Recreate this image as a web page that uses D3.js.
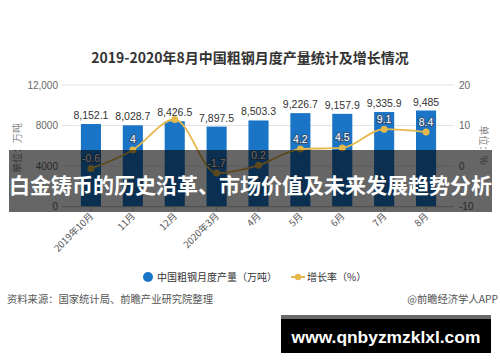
<!DOCTYPE html>
<html><head><meta charset="utf-8">
<script src="https://cdn.jsdelivr.net/npm/d3@7"></script>
<style>body{margin:0;background:#fff}svg{display:block}</style>
</head><body>
<svg id="c" width="500" height="362"></svg>
<script>
const categories = ["2019年10月","11月","12月","2020年3月","4月","5月","6月","7月","8月"];
const production = [8152.1, 8028.7, 8426.5, 7897.5, 8503.3, 9226.7, 9157.9, 9335.9, 9485];
const growth = [-0.6, 4, 11.5, -1.7, 0.2, 4.2, 4.5, 9.1, 8.4];
const growthLabels = ["-0.6","4","","-1.7","0.2","4.2","4.5","9.1","8.4"];
const leftTicks = [0, 4000, 8000, 12000];
const leftTickLabels = ["0","4000","8000","12,000"];
const rightTicks = [-10, 0, 10, 20];

const svg = d3.select("#c");
const fontLat = "Arial, 'Liberation Sans', sans-serif";
const fontCJK = "'Noto Sans CJK SC', 'Noto Sans', sans-serif";
const blue = "#1b75c7", gold = "#e5b84c";

const x = d3.scaleBand().domain(categories).range([70, 447]).paddingInner(0.52).paddingOuter(0.26);
const yL = d3.scaleLinear().domain([0, 12000]).range([206.7, 85]);
const yR = d3.scaleLinear().domain([-10, 20]).range([206.7, 85]);

// title
svg.append("text").attr("x", 250).attr("y", 63).attr("text-anchor", "middle")
  .attr("font-family", fontCJK).attr("font-weight", "bold").attr("font-size", 14).attr("fill", "#333")
  .text("2019-2020年8月中国粗钢月度产量统计及增长情况");

// gridlines
svg.append("g").selectAll("line").data(leftTicks.slice(1)).join("line")
  .attr("x1", 62).attr("x2", 454).attr("y1", d => yL(d)).attr("y2", d => yL(d))
  .attr("stroke", "#e3e3e3").attr("stroke-width", 1);

// left axis labels
svg.append("g").selectAll("text").data(leftTicks).join("text")
  .attr("x", 58).attr("y", d => yL(d) + 3.5).attr("text-anchor", "end")
  .attr("font-family", fontLat).attr("font-size", 10).attr("fill", "#666")
  .text((d, i) => leftTickLabels[i]);
// right axis labels
svg.append("g").selectAll("text").data(rightTicks).join("text")
  .attr("x", 459).attr("y", d => yR(d) + 3.5).attr("text-anchor", "start")
  .attr("font-family", fontLat).attr("font-size", 10).attr("fill", "#666")
  .text(d => d);

// axis titles
svg.append("text").attr("transform", "translate(21,148) rotate(-90)").attr("text-anchor", "middle")
  .attr("font-family", fontCJK).attr("font-size", 10).attr("fill", "#888").text("单位：万吨");
svg.append("text").attr("transform", "translate(480,145) rotate(90)").attr("text-anchor", "middle")
  .attr("font-family", fontCJK).attr("font-size", 10).attr("fill", "#888").text("单位：%");

// bars
svg.append("g").selectAll("rect").data(production).join("rect")
  .attr("x", (d, i) => x(categories[i])).attr("width", x.bandwidth())
  .attr("y", d => yL(d)).attr("height", d => yL(0) - yL(d)).attr("fill", blue);

// bar labels
svg.append("g").selectAll("text").data(production).join("text")
  .attr("x", (d, i) => x(categories[i]) + x.bandwidth() / 2).attr("y", d => yL(d) - 5)
  .attr("text-anchor", "middle").attr("font-family", fontLat).attr("font-size", 10.5)
  .attr("fill", "#333").text(d => d3.format(",")(d));

// x axis
const xc = c => x(c) + x.bandwidth() / 2;
svg.append("line").attr("x1", 62).attr("x2", 454).attr("y1", yL(0)).attr("y2", yL(0))
  .attr("stroke", "#bbb");
svg.append("g").selectAll("line").data(categories).join("line")
  .attr("x1", d => xc(d)).attr("x2", d => xc(d)).attr("y1", yL(0)).attr("y2", yL(0) + 4)
  .attr("stroke", "#bbb");
svg.append("g").selectAll("text").data(categories).join("text")
  .attr("transform", d => `translate(${xc(d) + 3},${yL(0) + 10}) rotate(-45)`)
  .attr("text-anchor", "end").attr("font-family", fontCJK).attr("font-size", 9.5).attr("fill", "#555")
  .text(d => d);

// line
const line = d3.line().x((d, i) => xc(categories[i])).y(d => yR(d)).curve(d3.curveMonotoneX);
svg.append("path").datum(growth).attr("d", line).attr("fill", "none").attr("stroke", gold).attr("stroke-width", 1.8);
svg.append("g").selectAll("circle").data(growth).join("circle")
  .attr("cx", (d, i) => xc(categories[i])).attr("cy", d => yR(d)).attr("r", 3.5).attr("fill", gold);
svg.append("g").selectAll("text").data(growth).join("text")
  .attr("x", (d, i) => xc(categories[i])).attr("y", d => yR(d) - 6.5)
  .attr("text-anchor", "middle").attr("font-family", fontLat).attr("font-size", 10.5)
  .attr("fill", "#fff").attr("stroke", "#2f557c").attr("stroke-width", 2.2).attr("paint-order", "stroke")
  .text((d, i) => growthLabels[i]);

// legend
svg.append("circle").attr("cx", 148).attr("cy", 277).attr("r", 5).attr("fill", blue);
svg.append("text").attr("x", 157).attr("y", 281).attr("font-family", fontCJK).attr("font-size", 10)
  .attr("fill", "#333").text("中国粗钢月度产量（万吨）");
svg.append("line").attr("x1", 291).attr("x2", 305).attr("y1", 277).attr("y2", 277).attr("stroke", gold).attr("stroke-width", 2);
svg.append("circle").attr("cx", 298).attr("cy", 277).attr("r", 3.2).attr("fill", gold);
svg.append("text").attr("x", 307).attr("y", 281).attr("font-family", fontCJK).attr("font-size", 10)
  .attr("fill", "#333").text("增长率（%）");

// source
svg.append("text").attr("x", 7).attr("y", 303).attr("font-family", fontCJK).attr("font-size", 10.3)
  .attr("fill", "#555").text("资料来源：国家统计局、前瞻产业研究院整理");
svg.append("text").attr("x", 498).attr("y", 303).attr("text-anchor", "end").attr("font-family", fontCJK).attr("font-size", 10.3)
  .attr("fill", "#555").text("@前瞻经济学人APP");

// overlay banner
svg.append("rect").attr("x", 9).attr("y", 150).attr("width", 483).attr("height", 62).attr("fill", "rgba(0,0,0,0.6)");
svg.append("text").attr("x", 250.5).attr("y", 193).attr("text-anchor", "middle")
  .attr("font-family", fontCJK).attr("font-weight", "bold").attr("font-size", 21).attr("fill", "#fff")
  .text("白金铸币的历史沿革、市场价值及未来发展趋势分析");

// watermark box
svg.append("rect").attr("x", 281).attr("y", 315).attr("width", 210).attr("height", 38).attr("fill", "#000");
svg.append("rect").attr("x", 281).attr("y", 315).attr("width", 210).attr("height", 4).attr("fill", "#6a6a6a");
svg.append("text").attr("x", 386).attr("y", 343).attr("text-anchor", "middle")
  .attr("font-family", "'Liberation Sans', Arial, sans-serif").attr("font-weight", "bold").attr("font-size", 17.4).attr("fill", "#fff")
  .text("www.qnbyzmzklxl.com");
</script>
</body></html>
